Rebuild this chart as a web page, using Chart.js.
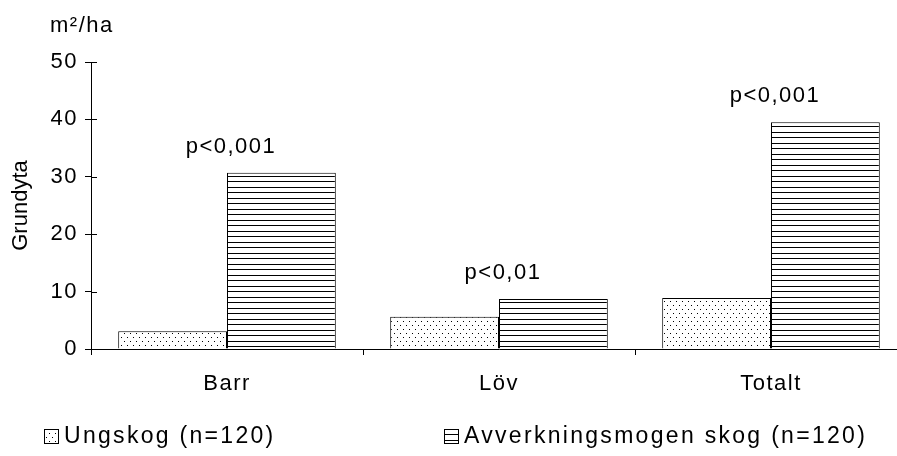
<!DOCTYPE html>
<html>
<head>
<meta charset="utf-8">
<script src="https://cdn.jsdelivr.net/npm/chart.js@4.4.1/dist/chart.umd.min.js"></script>
<style>
html,body{margin:0;padding:0;background:#fff;overflow:hidden;}
#wrap{position:relative;width:920px;height:456px;}
</style>
</head>
<body>
<div id="wrap"><canvas id="c"></canvas></div>
<script>
const categories = ['Barr', 'Löv', 'Totalt'];
const ungskog = [3.1, 5.6, 8.9];
const avverkning = [30.7, 8.7, 39.5];
const pLabels = ['p<0,001', 'p<0,01', 'p<0,001'];
const seriesNames = ['Ungskog (n=120)', 'Avverkningsmogen skog (n=120)'];
const yTicks = [0, 10, 20, 30, 40, 50];
const yTitle = 'Grundyta';
const unit = 'm²/ha';

const FAMILY = '"Liberation Sans", Arial, sans-serif';
const FONT = '22px ' + FAMILY;

/* fill patterns */
function dotPattern(){
  const p=document.createElement('canvas');
  p.width=6;p.height=8;
  const g=p.getContext('2d');
  g.fillStyle='#fff';g.fillRect(0,0,6,8);
  g.fillStyle='#000';
  g.fillRect(1,1,1,1);
  g.fillRect(4,5,1,1);
  return g.createPattern(p,'repeat');
}
function stripePattern(){
  const p=document.createElement('canvas');
  p.width=4;p.height=11;
  const g=p.getContext('2d');
  g.fillStyle='#fff';g.fillRect(0,0,4,11);
  g.fillStyle='#000';
  g.fillRect(0,0,4,1);
  g.fillRect(0,5,4,1);
  return g.createPattern(p,'repeat');
}

const dots=dotPattern();
const stripes=stripePattern();

const extras={
  id:'extras',
  beforeDraw(chart){
    chart.ctx.letterSpacing='1.5px';
  },
  afterDraw(chart){
    const ctx=chart.ctx;
    const x=chart.scales.x, y=chart.scales.y;
    ctx.save();
    ctx.font=FONT;
    ctx.fillStyle='#000';
    // unit label
    ctx.letterSpacing='1.5px';
    ctx.textAlign='left';ctx.textBaseline='middle';
    ctx.fillText(unit,50,26);
    // y title
    ctx.save();
    ctx.letterSpacing='0px';
    ctx.translate(21,(y.top+y.bottom)/2);
    ctx.rotate(-Math.PI/2);
    ctx.textAlign='center';
    ctx.fillText(yTitle,0,0);
    ctx.restore();
    // inner half of y ticks
    ctx.strokeStyle='#000';ctx.lineWidth=1;
    yTicks.forEach(v=>{
      const py=Math.round(y.getPixelForValue(v))+0.5;
      ctx.beginPath();ctx.moveTo(x.left,py);ctx.lineTo(x.left+6,py);ctx.stroke();
    });
    // p-value labels
    ctx.textAlign='center';ctx.textBaseline='middle';
    categories.forEach((c,i)=>{
      const px=x.getPixelForValue(i);
      const py=y.getPixelForValue(avverkning[i]);
      ctx.fillText(pLabels[i],px+4,py-26);
    });
    // legend
    const fills=[dots,stripes];
    const lx=[44,444];
    ctx.font='23px '+FAMILY;
    ctx.letterSpacing='2.3px';
    seriesNames.forEach((n,i)=>{
      ctx.fillStyle=fills[i];
      ctx.fillRect(lx[i],429,14,14);
      ctx.strokeStyle='#000';
      ctx.strokeRect(lx[i]+0.5,429.5,14,14);
      ctx.fillStyle='#000';
      ctx.textAlign='left';ctx.textBaseline='middle';
      ctx.fillText(n,lx[i]+20,437);
    });
    ctx.restore();
  }
};

new Chart(document.getElementById('c'),{
  type:'bar',
  data:{
    labels:categories,
    datasets:[
      {label:seriesNames[0],data:ungskog,backgroundColor:dots,borderColor:'#000',borderWidth:1},
      {label:seriesNames[1],data:avverkning,backgroundColor:stripes,borderColor:'#000',borderWidth:1}
    ]
  },
  options:{
    responsive:true,
    maintainAspectRatio:false,
    animation:false,
    devicePixelRatio:1,
    layout:{padding:{top:62,right:13,bottom:0,left:0}},
    datasets:{bar:{barPercentage:1,categoryPercentage:0.8}},
    plugins:{legend:{display:false},tooltip:{enabled:false}},
    scales:{
      x:{
        grid:{display:true,offset:true,drawOnChartArea:false,color:'#000',tickLength:6},
        border:{color:'#000'},
        ticks:{color:'#000',font:{family:FAMILY,size:22},padding:16},
        afterFit(s){s.height=107;}
      },
      y:{
        min:0,max:50,
        afterBuildTicks(s){s.ticks=yTicks.map(v=>({value:v}));},
        grid:{display:true,drawOnChartArea:false,color:'#000',tickLength:6},
        border:{color:'#000'},
        ticks:{color:'#000',font:{family:FAMILY,size:22},padding:7},
        title:{display:false},
        afterFit(s){s.width=91;}
      }
    }
  },
  plugins:[extras]
});
</script>
</body>
</html>
